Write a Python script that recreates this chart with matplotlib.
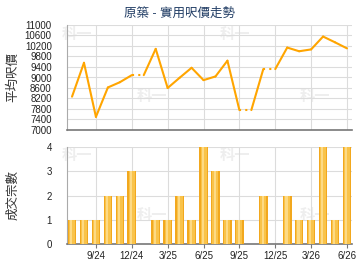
import matplotlib
matplotlib.use("Agg")
import matplotlib.pyplot as plt
import numpy as np

plt.rcParams['font.family'] = ['Liberation Sans', 'Noto Sans CJK TC', 'DejaVu Sans']

months = ['7/24', '8/24', '9/24', '10/24', '11/24', '12/24', '1/25', '2/25', '3/25',
          '4/25', '5/25', '6/25', '7/25', '8/25', '9/25', '10/25', '11/25', '12/25',
          '1/26', '2/26', '3/26', '4/26', '5/26', '6/26']
price = [8270, 9560, 7500, 8620, 8820, 9090, 9090, 10090, 8600, 8990, 9370, 8900,
         9040, 9640, 7760, 7760, 9320, 9320, 10140, 10000, 10070, 10560, 10340, 10110]
count = [1, 1, 1, 2, 2, 3, 0, 1, 1, 2, 1, 4, 3, 1, 1, 0, 2, 0, 2, 1, 1, 4, 1, 4]
tick_labels = ['9/24', '12/24', '3/25', '6/25', '9/25', '12/25', '3/26', '6/26']
title = '原築 - 實用呎價走勢'
ylabel_top = '平均呎價'
ylabel_bot = '成交宗數'

x = np.arange(len(months))
tick_pos = [months.index(t) for t in tick_labels]

fig = plt.figure(figsize=(3.6, 2.7), dpi=100)
fig.patch.set_facecolor('white')

# watermark (behind everything)
for (wx, wy) in [(77, 34), (235, 34), (152, 96), (315, 96), (77, 155), (235, 155), (152, 215), (315, 215)]:
    fig.text(wx/360, 1-wy/270, '科一', fontsize=11, color='#EEEEEE', ha='center', va='center',
             fontweight='bold', zorder=-5, family=['Noto Sans CJK TC'])

ax1 = fig.add_axes([67/360, 1-130/270, 285/360, 105/270])
ax2 = fig.add_axes([67/360, 1-244/270, 285/360, 97/270])
for ax in (ax1, ax2):
    ax.patch.set_alpha(0)

line_col = '#FFA500'
grid_col = '#DCDCDC'
xlim = (-0.42, 23.42)

# top line chart: dotted where month had no transactions
for i in range(len(x) - 1):
    ls = (0, (1, 2)) if count[i + 1] == 0 else '-'
    ax1.plot(x[i:i+2], price[i:i+2], color=line_col, lw=1.5, ls=ls,
             solid_capstyle='round', zorder=3)

ax1.set_xlim(*xlim)
ax1.set_ylim(7000, 11000)
ax1.set_yticks(np.arange(7000, 11001, 400))
ax1.set_xticks(tick_pos)
ax1.set_xticklabels([])
ax1.tick_params(axis='x', length=0)
ax1.tick_params(axis='y', length=0, labelsize=7, pad=11, colors='#222222')
ax1.grid(True, color=grid_col, lw=0.8, zorder=0)
ax1.set_axisbelow(True)
for s in ['top', 'right']:
    ax1.spines[s].set_visible(False)
ax1.spines['left'].set_color('#AAAAAA')
ax1.spines['bottom'].set_color('#777777')
ax1.spines['bottom'].set_linewidth(1.2)
fig.text(13/360, 1-77/270, ylabel_top, fontsize=9, color='#333333', rotation=90,
         ha='center', va='center')
fig.text(180/360, 1-14/270, title, fontsize=9, color='#1F3B63', ha='center', va='center')

# bottom bar chart with simple gradient look
ax2.bar(x, count, width=0.72, color='#F2A81E', zorder=3, linewidth=0)
ax2.bar(x, count, width=0.5, color='#F9C34A', zorder=3.1, linewidth=0)
ax2.bar(x - 0.06, count, width=0.18, color='#FDDA85', zorder=3.2, linewidth=0)
ax2.set_xlim(*xlim)
ax2.set_ylim(0, 4)
ax2.set_yticks(range(0, 5))
ax2.set_xticks(tick_pos)
ax2.set_xticklabels(tick_labels)
ax2.tick_params(axis='x', length=3, labelsize=7, pad=2, colors='#222222', color='#777777')
ax2.tick_params(axis='y', length=0, labelsize=7, pad=11, colors='#222222')
ax2.grid(True, color=grid_col, lw=0.8, zorder=0)
ax2.set_axisbelow(True)
for s in ['top', 'right']:
    ax2.spines[s].set_visible(False)
ax2.spines['left'].set_color('#AAAAAA')
ax2.spines['bottom'].set_color('#777777')
ax2.spines['bottom'].set_linewidth(1.2)
fig.text(13/360, 1-195/270, ylabel_bot, fontsize=9, color='#333333', rotation=90,
         ha='center', va='center')

fig.savefig('out.png', dpi=100)
